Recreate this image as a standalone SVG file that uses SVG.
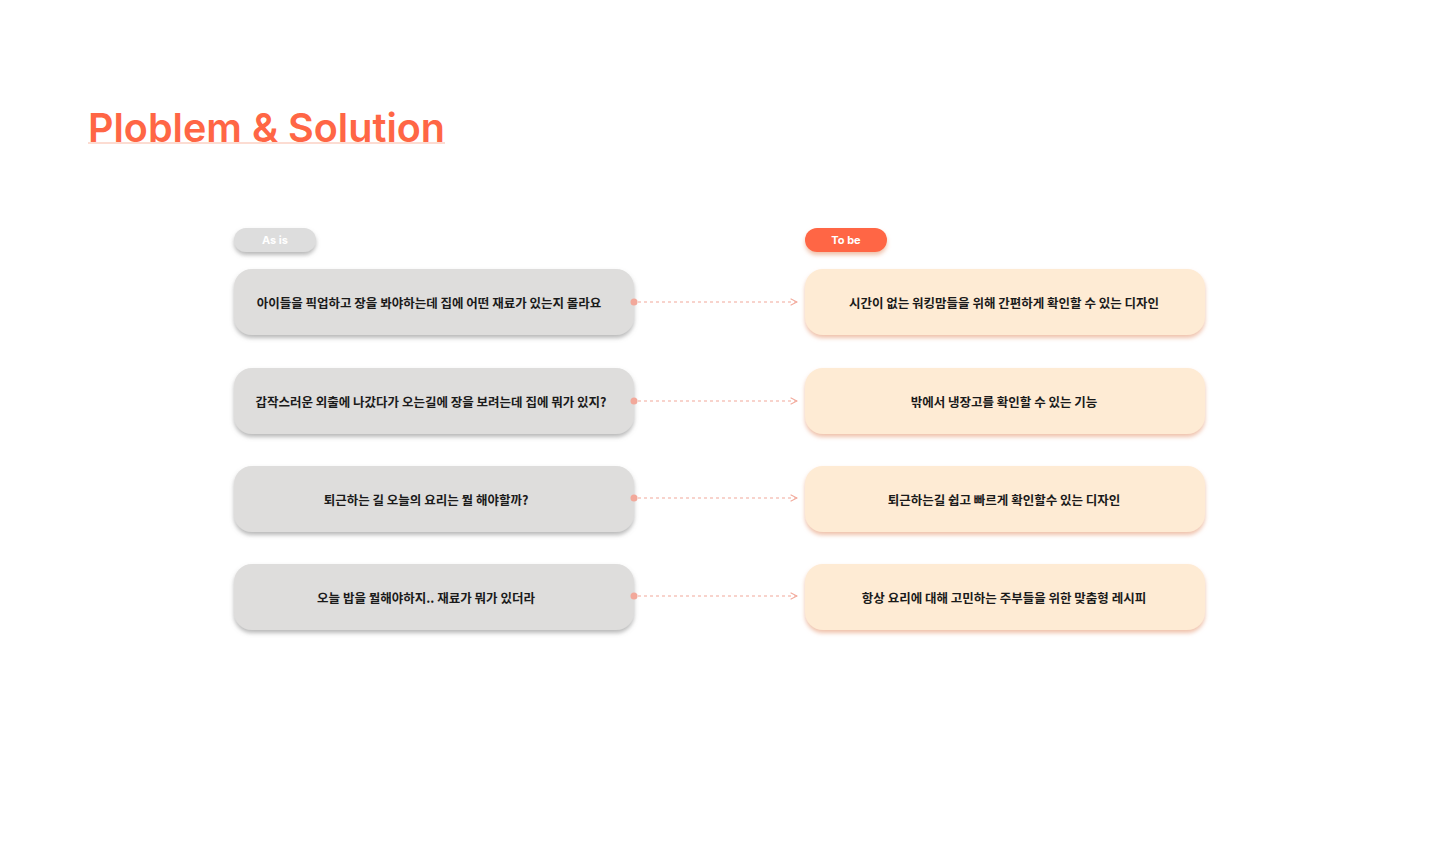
<svg xmlns="http://www.w3.org/2000/svg" width="1440" height="860" viewBox="0 0 1440 860">
<style>
.title{font-family:Inter,"Noto Sans","Noto Sans CJK KR",sans-serif;font-size:40px;font-weight:600;fill:#FF6645}
.pilltxt{font-family:Inter,"Noto Sans","Noto Sans CJK KR",sans-serif;font-size:11px;font-weight:700;fill:#fff}
.txt{font-family:"Noto Sans CJK KR","Noto Sans",sans-serif;font-size:12.5px;font-weight:700;fill:#1a1a1a}
.asis{fill:#DEDDDC}
.tobe{fill:#FEEBD4}
.conn{stroke:#F2A89A;stroke-width:1.2;stroke-dasharray:3 3;fill:none}
</style>
<defs>
<filter id="shg" x="-10%" y="-20%" width="120%" height="150%">
<feDropShadow dx="0" dy="3" stdDeviation="2" flood-color="#8a8a8a" flood-opacity="0.6"/>
</filter>
<filter id="sho" x="-10%" y="-20%" width="120%" height="150%">
<feDropShadow dx="0" dy="3" stdDeviation="2" flood-color="#E8A887" flood-opacity="0.7"/>
</filter>
<marker id="arr" viewBox="0 0 10 10" refX="9" refY="5" markerWidth="8" markerHeight="8" markerUnits="userSpaceOnUse" orient="auto">
<path d="M1,1 L9,5 L1,9" fill="none" stroke="#F2A89A" stroke-width="1.3"/>
</marker>
</defs>
<rect width="1440" height="860" fill="#fff"/>
<g id="title">
<line x1="88" y1="143" x2="445" y2="143" stroke="#FCDCD2" stroke-width="2"/>
<text class="title" x="88" y="142" textLength="357" lengthAdjust="spacingAndGlyphs">Ploblem &amp; Solution</text>
</g>
<g id="pill-asis">
<rect x="234" y="228" width="82" height="24" rx="12" fill="#DDDDDD" filter="url(#shg)"/>
<text class="pilltxt" x="275" y="244" text-anchor="middle">As is</text>
</g>
<g id="pill-tobe">
<rect x="805" y="228" width="82" height="24" rx="12" fill="#FF6645" filter="url(#sho)"/>
<text class="pilltxt" x="846" y="244" text-anchor="middle">To be</text>
</g>
<g id="asis1"><rect class="asis" x="234" y="269" width="400" height="66" rx="18" filter="url(#shg)"/><text class="txt" x="429" y="308" text-anchor="middle">아이들을 픽업하고 장을 봐야하는데 집에 어떤 재료가 있는지 몰라요</text></g>
<g id="asis2"><rect class="asis" x="234" y="368" width="400" height="66" rx="18" filter="url(#shg)"/><text class="txt" x="431" y="407" text-anchor="middle">갑작스러운 외출에 나갔다가 오는길에 장을 보려는데 집에 뭐가 있지?</text></g>
<g id="asis3"><rect class="asis" x="234" y="466" width="400" height="66" rx="18" filter="url(#shg)"/><text class="txt" x="426" y="505" text-anchor="middle">퇴근하는 길 오늘의 요리는 뭘 해야할까?</text></g>
<g id="asis4"><rect class="asis" x="234" y="564" width="400" height="66" rx="18" filter="url(#shg)"/><text class="txt" x="426" y="603" text-anchor="middle">오늘 밥을 뭘해야하지.. 재료가 뭐가 있더라</text></g>
<g id="tobe1"><rect class="tobe" x="805" y="269" width="400" height="66" rx="18" filter="url(#sho)"/><text class="txt" x="1004" y="308" text-anchor="middle">시간이 없는 워킹맘들을 위해 간편하게 확인할 수 있는 디자인</text></g>
<g id="tobe2"><rect class="tobe" x="805" y="368" width="400" height="66" rx="18" filter="url(#sho)"/><text class="txt" x="1004" y="407" text-anchor="middle">밖에서 냉장고를 확인할 수 있는 기능</text></g>
<g id="tobe3"><rect class="tobe" x="805" y="466" width="400" height="66" rx="18" filter="url(#sho)"/><text class="txt" x="1004" y="505" text-anchor="middle">퇴근하는길 쉽고 빠르게 확인할수 있는 디자인</text></g>
<g id="tobe4"><rect class="tobe" x="805" y="564" width="400" height="66" rx="18" filter="url(#sho)"/><text class="txt" x="1004" y="603" text-anchor="middle">항상 요리에 대해 고민하는 주부들을 위한 맞춤형 레시피</text></g>
<g id="connectors">
<circle cx="634" cy="302" r="3.5" fill="#F2A89A"/>
<path class="conn" d="M638,302 H797" marker-end="url(#arr)"/>
<circle cx="634" cy="401" r="3.5" fill="#F2A89A"/>
<path class="conn" d="M638,401 H797" marker-end="url(#arr)"/>
<circle cx="634" cy="498" r="3.5" fill="#F2A89A"/>
<path class="conn" d="M638,498 H797" marker-end="url(#arr)"/>
<circle cx="634" cy="596" r="3.5" fill="#F2A89A"/>
<path class="conn" d="M638,596 H797" marker-end="url(#arr)"/>
</g>
</svg>
